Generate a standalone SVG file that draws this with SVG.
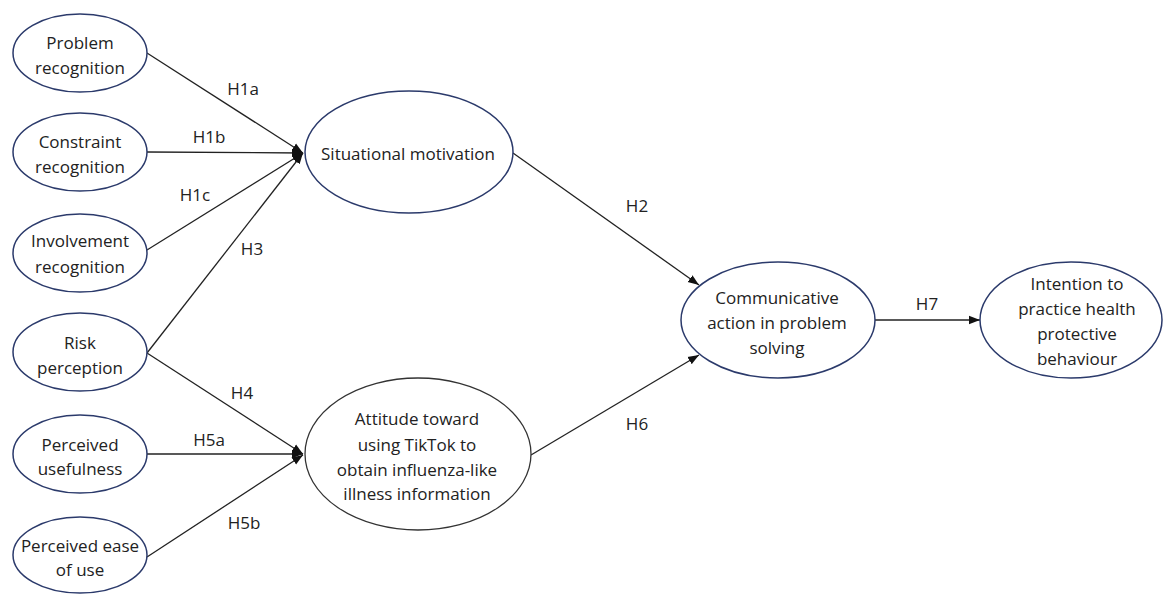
<svg xmlns="http://www.w3.org/2000/svg" width="1163" height="595" viewBox="0 0 1163 595">
<style>
.n{fill:#fff;stroke:#2b3a6b;stroke-width:1.5}
.g{fill:#fff;stroke:#333;stroke-width:1.3}
text{font-family:"Open Sans","Noto Sans",sans-serif;font-size:17px;fill:#222;text-anchor:middle;dominant-baseline:central}
.c line{stroke:#222;stroke-width:1.3;marker-end:url(#a)}
</style>
<defs>
<marker id="a" markerUnits="userSpaceOnUse" markerWidth="12" markerHeight="10" refX="11" refY="5" orient="auto">
<path d="M0,0.8 L11,5 L0,9.2 Z" fill="#111"/>
</marker>
</defs>
<rect width="1163" height="595" fill="#fff"/>
<g class="c" id="connectors">
<line x1="147" y1="53" x2="303" y2="153"/>
<line x1="147" y1="152" x2="303" y2="153"/>
<line x1="147" y1="250" x2="303" y2="153"/>
<line x1="147" y1="353" x2="303" y2="153"/>
<line x1="147" y1="353" x2="303" y2="454"/>
<line x1="147" y1="454" x2="303" y2="454"/>
<line x1="147" y1="557" x2="303" y2="455"/>
<line x1="513" y1="153" x2="699" y2="285"/>
<line x1="531" y1="455" x2="699" y2="355"/>
<line x1="875" y1="320" x2="980" y2="320"/>
</g>
<g id="labels">
<text x="243" y="88">H1a</text>
<text x="209" y="136">H1b</text>
<text x="195" y="194">H1c</text>
<text x="252" y="248">H3</text>
<text x="242" y="392">H4</text>
<text x="209" y="439">H5a</text>
<text x="244" y="522">H5b</text>
<text x="637" y="205">H2</text>
<text x="637" y="423">H6</text>
<text x="927" y="303">H7</text>
</g>
<g id="problem"><ellipse class="n" cx="80" cy="53" rx="67" ry="39"/><text x="80" y="42">Problem</text><text x="80" y="67">recognition</text></g>
<g id="constraint"><ellipse class="n" cx="80" cy="152" rx="67" ry="39"/><text x="80" y="141">Constraint</text><text x="80" y="166">recognition</text></g>
<g id="involvement"><ellipse class="n" cx="80" cy="253" rx="67" ry="39"/><text x="80" y="240">Involvement</text><text x="80" y="266">recognition</text></g>
<g id="risk"><ellipse class="n" cx="80" cy="352" rx="67" ry="39"/><text x="80" y="342">Risk</text><text x="80" y="367">perception</text></g>
<g id="usefulness"><ellipse class="n" cx="80" cy="454" rx="67" ry="39"/><text x="80" y="444">Perceived</text><text x="80" y="468">usefulness</text></g>
<g id="ease"><ellipse class="n" cx="80" cy="555" rx="67" ry="38"/><text x="80" y="545">Perceived ease</text><text x="80" y="569">of use</text></g>
<g id="situational"><ellipse class="n" cx="409" cy="152" rx="104" ry="61"/><text x="408" y="153">Situational motivation</text></g>
<g id="attitude"><ellipse class="g" cx="418" cy="454" rx="113" ry="76"/><text x="417" y="418">Attitude toward</text><text x="417" y="444">using TikTok to</text><text x="417" y="469">obtain influenza-like</text><text x="417" y="493">illness information</text></g>
<g id="communicative"><ellipse class="n" cx="778" cy="320" rx="97" ry="58"/><text x="777" y="297">Communicative</text><text x="777" y="322">action in problem</text><text x="777" y="347">solving</text></g>
<g id="intention"><ellipse class="n" cx="1071" cy="320" rx="91" ry="58"/><text x="1077" y="283">Intention to</text><text x="1077" y="308">practice health</text><text x="1077" y="333">protective</text><text x="1077" y="358">behaviour</text></g>
</svg>
